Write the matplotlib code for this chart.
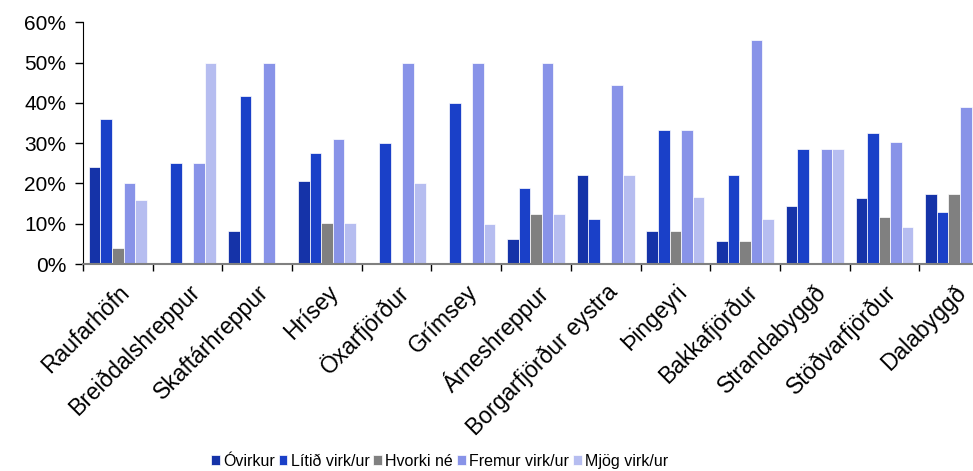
import numpy as np
import matplotlib
matplotlib.use("Agg")
from matplotlib import pyplot as plt
from matplotlib.ticker import PercentFormatter

# sveitarfélög / byggðarlög
places = ["Raufarhöfn", "Breiðdalshreppur", "Skaftárhreppur", "Hrísey", "Öxarfjörður",
          "Grímsey", "Árneshreppur", "Borgarfjörður eystra", "Þingeyri", "Bakkafjörður",
          "Strandabyggð", "Stöðvarfjörður", "Dalabyggð"]

series_names = ["Óvirkur", "Lítið virk/ur", "Hvorki né", "Fremur virk/ur", "Mjög virk/ur"]

ovirkur = [24.0, 0, 8.3, 20.7, 0, 0, 6.3, 22.2, 8.3, 5.6, 14.3, 16.3, 17.4]
litid = [36.0, 25.0, 41.7, 27.6, 30.0, 40.0, 18.8, 11.1, 33.3, 22.2, 28.6, 32.6, 13.0]
hvorki = [4.0, 0, 0, 10.3, 0, 0, 12.5, 0, 8.3, 5.6, 0, 11.6, 17.4]
fremur = [20.0, 25.0, 50.0, 31.0, 50.0, 50.0, 50.0, 44.4, 33.3, 55.6, 28.6, 30.2, 39.1]
mjog = [16.0, 50.0, 0, 10.3, 20.0, 10.0, 12.5, 22.2, 16.7, 11.1, 28.6, 9.3, 13.0]

colors = ["#1533A8", "#1A40C8", "#808080", "#8893E8", "#B6BDF0"]

plt.rcParams['font.family'] = ['Liberation Sans', 'DejaVu Sans']

fig = plt.figure(figsize=(9.73, 4.71), dpi=100)
# the plot area runs past the right edge of the picture, as in the original
ax = fig.add_axes([83/973, 207/471, 906/973, 241.6/471])

x = np.arange(len(places))
w = 0.166
data = [ovirkur, litid, hvorki, fremur, mjog]
for i, vals in enumerate(data):
    ax.bar(x + (i - 2) * w, vals, w, color=colors[i], edgecolor='white',
           linewidth=0.5, label=series_names[i], zorder=2)

ax.set_xlim(-0.5, len(places) - 0.5)
ax.set_ylim(0, 60)
ax.set_yticks(np.arange(0, 61, 10))
ax.yaxis.set_major_formatter(PercentFormatter(decimals=0))
ax.tick_params(axis='y', labelsize=15, length=6, width=1, direction='out', pad=6)

ax.set_xticks(x)
ax.set_xticklabels(places, rotation=45, ha='right', rotation_mode='anchor', fontsize=16.5)
ax.tick_params(axis='x', which='major', length=0, pad=12)
ax.set_xticks(np.arange(-0.5, len(places), 1), minor=True)
ax.tick_params(axis='x', which='minor', length=5, width=1, color='black')

for s in ['top', 'right']:
    ax.spines[s].set_visible(False)
ax.spines['left'].set_color('black')
ax.spines['bottom'].set_color('#808080')
ax.spines['bottom'].set_linewidth(1.5)

fig.legend(loc='center', bbox_to_anchor=(0.4517, 0.021), ncol=5, frameon=False,
           fontsize=11.5, handlelength=0.55, handleheight=0.55, handletextpad=0.2,
           columnspacing=0.25)

fig.savefig("out.png", dpi=100)
